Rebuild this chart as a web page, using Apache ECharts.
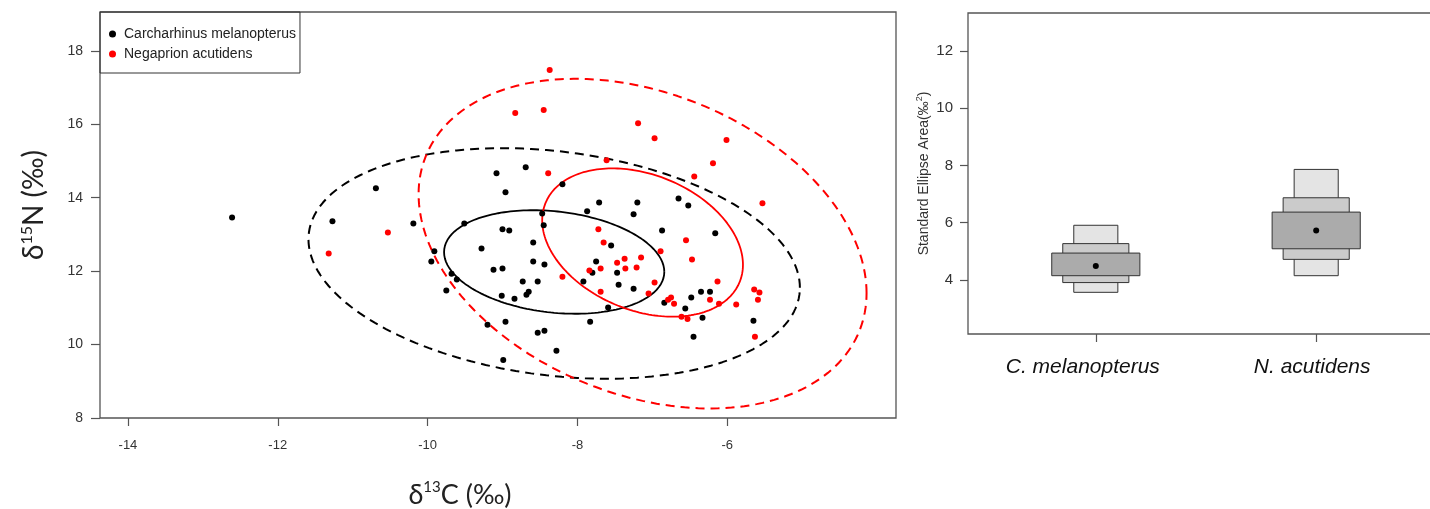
<!DOCTYPE html>
<html><head><meta charset="utf-8">
<script src="https://cdn.jsdelivr.net/npm/echarts@6/dist/echarts.min.js"></script>
<style>html,body{margin:0;padding:0;background:#fff}#chart{width:1430px;height:509px}</style>
</head><body><div id="chart"></div>
<script>
// ---- Left panel: isotope biplot ----
const cmName = 'Carcharhinus melanopterus';
const naName = 'Negaprion acutidens';
const cmX = [-12.61,-11.27,-10.69,-10.19,-9.95,-9.91,-9.75,-9.68,-9.61,-9.51,-9.28,-9.20,-9.12,-9.08,-9.00,-9.00,-9.01,-8.99,-8.96,-8.96,-8.91,-8.84,-8.73,-8.69,-8.68,-8.65,-8.59,-8.59,-8.53,-8.53,-8.47,-8.45,-8.44,-8.44,-8.28,-8.20,-7.92,-7.87,-7.83,-7.80,-7.75,-7.71,-7.59,-7.55,-7.47,-7.45,-7.25,-7.25,-7.20,-6.87,-6.84,-6.65,-6.56,-6.52,-6.48,-6.45,-6.35,-6.33,-6.23,-6.16,-5.65];
const cmY = [13.46,13.36,14.26,13.30,12.26,12.54,11.47,11.93,11.77,13.30,12.62,10.54,12.04,14.67,13.14,12.07,11.33,9.58,14.15,10.62,13.11,11.25,11.72,14.83,11.36,11.44,12.78,12.26,11.72,10.32,13.57,13.25,12.18,10.38,9.83,14.37,11.72,13.63,10.62,11.96,12.26,13.87,11.01,12.70,11.96,11.63,13.55,11.52,13.87,13.11,11.14,13.98,10.98,13.79,11.28,10.21,11.44,10.73,11.44,13.03,10.65];
const naX = [-11.32,-10.53,-8.83,-8.45,-8.37,-8.39,-8.20,-7.84,-7.72,-7.69,-7.69,-7.65,-7.61,-7.47,-7.37,-7.36,-7.21,-7.19,-7.15,-7.05,-6.97,-6.97,-6.89,-6.79,-6.75,-6.71,-6.61,-6.55,-6.53,-6.47,-6.44,-6.23,-6.19,-6.13,-6.11,-6.01,-5.88,-5.64,-5.63,-5.59,-5.57,-5.53];
const naY = [12.48,13.05,16.31,16.39,17.48,14.67,11.85,12.02,13.14,12.07,11.44,12.78,15.02,12.23,12.34,12.07,12.10,16.03,12.37,11.39,15.62,11.69,12.54,11.22,11.28,11.11,10.76,12.84,10.70,12.32,14.58,11.22,14.94,11.72,11.11,15.57,11.09,11.50,10.21,11.22,11.42,13.85];
const xTicks = [-14, -12, -10, -8, -6];
const yTicks = [8, 10, 12, 14, 16, 18];

// ellipses: SEAc (solid) and 95% (dashed); centre, half-extents, correlation
const ellipseCx = [-8.31, -7.13, -8.31, -7.13];
const ellipseCy = [12.25, 12.78, 12.21, 12.75];
const ellipseAx = [1.47, 1.34, 3.28, 2.99];
const ellipseAy = [1.41, 2.02, 3.14, 4.49];
const ellipseR  = [-0.19, -0.30, -0.21, -0.30];

// ---- Right panel: SEA density boxes ----
const seaGroups = ['C. melanopterus', 'N. acutidens'];
const seaPos = [1, 2];
const seaMode = [4.49, 5.73];
const ci95Lo = [3.57, 4.15], ci95Hi = [5.91, 7.86];
const ci75Lo = [3.91, 4.72], ci75Hi = [5.27, 6.87];
const ci50Lo = [4.15, 5.09], ci50Hi = [4.94, 6.37];
const seaTicks = [4, 6, 8, 10, 12];

function ellipsePoints(i) {
  const pts = [];
  const r = ellipseR[i], s = Math.sqrt(1 - r * r);
  for (let k = 0; k <= 200; k++) {
    const t = 2 * Math.PI * k / 200;
    pts.push([ellipseCx[i] + ellipseAx[i] * Math.cos(t),
              ellipseCy[i] + ellipseAy[i] * (r * Math.cos(t) + s * Math.sin(t))]);
  }
  return pts;
}
function zip(a, b) { return a.map((v, i) => [v, b[i]]); }

const RED = '#ff0000';
const tickFont = '"Liberation Sans", Arial, sans-serif';
const titleFont = 'Lato, "Open Sans", sans-serif';

function boxSeries(lo, hi, hw, color) {
  return {
    type: 'custom', xAxisIndex: 1, yAxisIndex: 1,
    data: seaPos.map((x, i) => [x, lo[i], hi[i]]),
    renderItem: function (params, api) {
      const x = api.value(0);
      const p1 = api.coord([x - hw, api.value(2)]);
      const p2 = api.coord([x + hw, api.value(1)]);
      return { type: 'rect',
        shape: { x: p1[0], y: p1[1], width: p2[0] - p1[0], height: p2[1] - p1[1] },
        style: { fill: color, stroke: '#333', lineWidth: 1 } };
    },
    silent: true, animation: false
  };
}

const lineBase = (name, i, color, dashed) => ({
  name: name, type: 'line', xAxisIndex: 0, yAxisIndex: 0,
  data: ellipsePoints(i), showSymbol: false, smooth: false, silent: true,
  lineStyle: { color: color, width: dashed ? 2 : 1.8, type: dashed ? [9, 6] : 'solid', opacity: 1 },
  z: 2
});

const chart = echarts.init(document.getElementById('chart'), null, { renderer: 'canvas' });
chart.setOption({
  animation: false,
  backgroundColor: '#fff',
  legend: {
    data: [cmName, naName], orient: 'vertical', left: 100, top: 12,
    icon: 'circle', itemWidth: 7, itemHeight: 7, itemGap: 6,
    padding: [15, 4, 12, 9],
    borderColor: '#333', borderWidth: 1, borderRadius: 0,
    itemStyle: { opacity: 1 },
    textStyle: { fontFamily: tickFont, fontSize: 14, color: '#222', lineHeight: 14, padding: [0, 0, 0, 3] }
  },
  grid: [
    { left: 100, top: 12, right: 534, bottom: 91, show: true, borderColor: '#555', borderWidth: 1.3,
      containLabel: false, outerBoundsMode: 'none' },
    { left: 968, top: 13, right: -14, bottom: 175, show: true, borderColor: '#555', borderWidth: 1.3,
      containLabel: false, outerBoundsMode: 'none' }
  ],
  xAxis: [
    { type: 'value', gridIndex: 0, min: -14.373, max: -3.747,
      axisLine: { show: false }, splitLine: { show: false },
      axisTick: { show: true, length: 8, customValues: xTicks, lineStyle: { color: '#555', width: 1.2 } },
      axisLabel: { customValues: xTicks, margin: 21, fontFamily: tickFont, fontSize: 13, color: '#333' },
      name: '{m|δ}{s|13}{m|C (‰)}', nameLocation: 'middle', nameGap: 62,
      nameTextStyle: { padding: [0, 76, 0, 0], rich: {
        m: { fontFamily: titleFont, fontSize: 27, color: '#222', lineHeight: 30 },
        s: { fontFamily: titleFont, fontSize: 15, color: '#222', lineHeight: 30, verticalAlign: 'top', padding: [0, 0, 8, 0] } } }
    },
    { type: 'value', gridIndex: 1, min: 0.42, max: 2.58,
      axisLine: { show: false }, splitLine: { show: false },
      axisTick: { show: true, length: 8, customValues: seaPos, lineStyle: { color: '#555', width: 1.2 } },
      axisLabel: { customValues: seaPos, margin: 23, color: '#111',
        formatter: v => (v === seaPos[0] ? '{a|' : '{b|') + seaGroups[seaPos.indexOf(v)] + '}',
        rich: {
          a: { fontFamily: tickFont, fontSize: 21, fontStyle: 'italic', color: '#111', padding: [0, 26, 0, 0] },
          b: { fontFamily: tickFont, fontSize: 21, fontStyle: 'italic', color: '#111', padding: [0, 8, 0, 0] } } } }
  ],
  yAxis: [
    { type: 'value', gridIndex: 0, min: 8, max: 19.06,
      axisLine: { show: false }, splitLine: { show: false },
      axisTick: { show: true, length: 9, customValues: yTicks, lineStyle: { color: '#555', width: 1.2 } },
      axisLabel: { customValues: yTicks, margin: 17, fontFamily: tickFont, fontSize: 14, color: '#333' },
      name: '{m|δ}{s|15}{m|N (‰)}', nameLocation: 'middle', nameGap: 51, nameRotate: 90,
      nameTextStyle: { padding: [0, 0, 0, 20], rich: {
        m: { fontFamily: titleFont, fontSize: 28, color: '#222', lineHeight: 30 },
        s: { fontFamily: titleFont, fontSize: 16, color: '#222', lineHeight: 30, verticalAlign: 'top', padding: [0, 0, 8, 0] } } }
    },
    { type: 'value', gridIndex: 1, min: 2.115, max: 13.32,
      axisLine: { show: false }, splitLine: { show: false },
      axisTick: { show: true, length: 8, customValues: seaTicks, lineStyle: { color: '#555', width: 1.2 } },
      axisLabel: { customValues: seaTicks, margin: 15, fontFamily: tickFont, fontSize: 15, color: '#333' },
      name: '{m|Standard Ellipse Area(‰}{s|2}{m|)}', nameLocation: 'middle', nameGap: 35, nameRotate: 90,
      nameTextStyle: { rich: {
        m: { fontFamily: tickFont, fontSize: 14, color: '#333', lineHeight: 18 },
        s: { fontFamily: tickFont, fontSize: 9, color: '#333', lineHeight: 18, verticalAlign: 'top', padding: [0, 0, 6, 0] } } }
    }
  ],
  series: [
    lineBase('cm95', 2, '#000', true),
    lineBase('na95', 3, RED, true),
    lineBase('cmSEA', 0, '#000', false),
    lineBase('naSEA', 1, RED, false),
    { name: cmName, type: 'scatter', xAxisIndex: 0, yAxisIndex: 0, data: zip(cmX, cmY),
      symbol: 'circle', symbolSize: 6, itemStyle: { color: '#000', opacity: 1 }, z: 3 },
    { name: naName, type: 'scatter', xAxisIndex: 0, yAxisIndex: 0, data: zip(naX, naY),
      symbol: 'circle', symbolSize: 6, itemStyle: { color: RED, opacity: 1 }, z: 4 },
    boxSeries(ci95Lo, ci95Hi, 0.10, '#e4e4e4'),
    boxSeries(ci75Lo, ci75Hi, 0.15, '#cbcbcb'),
    boxSeries(ci50Lo, ci50Hi, 0.20, '#ababab'),
    { name: 'mode', type: 'scatter', xAxisIndex: 1, yAxisIndex: 1, data: zip(seaPos, seaMode),
      symbol: 'circle', symbolSize: 6, itemStyle: { color: '#000', opacity: 1 }, z: 5, silent: true }
  ]
});
</script>
</body></html>
